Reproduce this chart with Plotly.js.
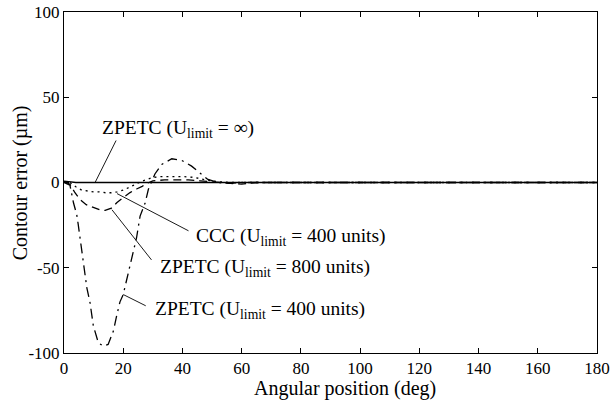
<!DOCTYPE html>
<html>
<head>
<meta charset="utf-8">
<script src="https://cdn.plot.ly/plotly-3.0.1.min.js"></script>
<style>html,body{margin:0;padding:0;background:#fff;}#chart{width:612px;height:404px;}</style>
</head>
<body>
<div id="chart"></div>
<script>
// Angular position (deg) and contour error (µm) per controller
const xInf  = [0, 1, 2, 3, 4, 180];
const yInf  = [0.8, 0.7, 0.5, 0.2, 0, 0];

const xCCC  = [0, 2, 4, 6, 8, 10, 12, 14, 16, 18, 20, 22, 24, 26, 28, 30, 33, 36, 40, 44, 48, 52, 56, 60, 180];
const yCCC  = [0.5, 0, -2.5, -4.5, -5, -5.5, -5.5, -6, -6, -5.5, -4.5, -3, -1.2, 0.6, 2, 3, 3.5, 3.5, 3.5, 3, 1.5, 0.5, 0, 0, 0];

const x800  = [0, 2, 3.7, 5.4, 7.5, 9.8, 12, 13.9, 16, 17.9, 20, 22.3, 24.5, 26.4, 28, 30, 34, 38, 42, 46, 50, 55, 60, 65, 180];
const y800  = [0.5, -1, -6, -10, -13, -14.7, -16, -16.4, -15, -11.7, -9, -5.9, -3.8, -2.3, -0.5, 1, 1.5, 1.5, 1.5, 1, 0.5, 0, -1, 0, 0];

const x400  = [0, 2, 3.2, 4.3, 4.8, 6.0, 7.1, 7.7, 8.8, 9.9, 11.6, 13.3, 14.9, 16.7, 17.8, 18.9, 20, 21.7, 23.4, 24.5, 25.7, 27.4, 28.5, 29.6, 30.7, 33, 36.4, 39.8, 43.1, 46.5, 48.6, 52, 56, 60, 180];
const y400  = [0, -1.5, -11.9, -18.8, -24.6, -39.3, -55, -61.6, -70.6, -84, -94, -96, -95, -87, -78, -70, -65.7, -53, -39.3, -32.4, -19.7, -12, -4, 0.8, 5, 10.6, 13.9, 12.9, 9.6, 4.7, 1.8, 0, -0.5, 0, 0];

const labelInf = 'ZPETC (U<sub>limit</sub> = ∞)';
const labelCCC = 'CCC (U<sub>limit</sub> = 400 units)';
const label800 = 'ZPETC (U<sub>limit</sub> = 800 units)';
const label400 = 'ZPETC (U<sub>limit</sub> = 400 units)';
const xTitle = 'Angular position (deg)';
const yTitle = 'Contour error (µm)';

const xTicks = [0, 20, 40, 60, 80, 100, 120, 140, 160, 180];
const yTicks = [-100, -50, 0, 50, 100];

const lineStyle = (dash) => ({color: '#000', width: 1.3, dash: dash});

const traces = [
  {x: xInf, y: yInf, mode: 'lines', line: lineStyle('solid'), name: labelInf},
  {x: xCCC, y: yCCC, mode: 'lines', line: lineStyle('2px,4px'), name: labelCCC},
  {x: x800, y: y800, mode: 'lines', line: lineStyle('8px,5px'), name: label800},
  {x: x400, y: y400, mode: 'lines', line: lineStyle('10px,5px,2px,5px'), name: label400}
];

const serif = '"Liberation Serif", "Times New Roman", serif';
const tickFont = {family: serif, size: 17, color: '#000'};
const labelFont = {family: serif, size: 19.5, color: '#000'};
const titleFont = {family: serif, size: 20, color: '#000'};

// leader line from a curve point (x, y) to a text, offset in pixels
const pointer = (x, y, ax, ay) => ({x: x, y: y, xref: 'x', yref: 'y', text: ' ', showarrow: true,
  arrowhead: 0, arrowwidth: 0.9, arrowcolor: '#000', ax: ax, ay: ay, standoff: 0, font: {size: 1}});
const label = (x, y, text) => ({x: x, y: y, xref: 'x', yref: 'y', text: text, showarrow: false,
  xanchor: 'left', yanchor: 'middle', font: labelFont});

const annotations = [
  pointer(10.5, 0, 22, -44),
  label(12.2, 31.5, labelInf),
  pointer(17.9, -6.5, 73, 38),
  label(43.9, -31.7, labelCCC),
  pointer(16.2, -16, 41, 52),
  label(31.7, -49.9, label800),
  pointer(20, -65.7, 24, 12),
  label(30.1, -74.5, label400),
  {x: 0.528, y: -0.103, xref: 'paper', yref: 'paper', text: xTitle, showarrow: false,
   xanchor: 'center', yanchor: 'middle', font: titleFont},
  {x: -0.081, y: 0.5, xref: 'paper', yref: 'paper', text: yTitle, showarrow: false, textangle: -90,
   xanchor: 'center', yanchor: 'middle', font: titleFont}
];

const axisCommon = {
  showgrid: false, zeroline: false, showline: true, linecolor: '#000', linewidth: 1,
  mirror: 'ticks', ticks: 'inside', ticklen: 5, tickcolor: '#000', tickwidth: 1,
  tickfont: tickFont
};

const layout = {
  width: 612, height: 404,
  margin: {l: 64, r: 15, t: 12, b: 51},
  paper_bgcolor: '#fff', plot_bgcolor: '#fff',
  showlegend: false,
  font: tickFont,
  xaxis: Object.assign({}, axisCommon, {range: [0, 180], tickvals: xTicks, ticktext: xTicks.map(String)}),
  yaxis: Object.assign({}, axisCommon, {range: [-100, 100], tickvals: yTicks, ticktext: yTicks.map(String)}),
  annotations: annotations
};

Plotly.newPlot('chart', traces, layout, {displayModeBar: false, staticPlot: true});
</script>
</body>
</html>
